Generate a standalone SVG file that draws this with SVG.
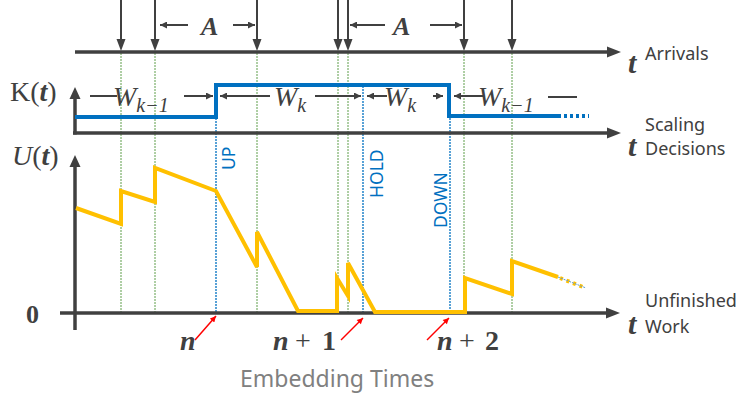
<svg xmlns="http://www.w3.org/2000/svg" width="739" height="397" viewBox="0 0 739 397">
<style>
.ax{stroke:#404040;stroke-width:3.5;fill:none}
.arr{stroke:#404040;stroke-width:2;fill:none}
.hd{fill:#404040}
.g{stroke:#5E9E4A;stroke-width:1;stroke-dasharray:2 1;fill:none}
.b{stroke:#0070C0;stroke-width:1.3;stroke-dasharray:2 1;fill:none}
.k{stroke:#0070C0;stroke-width:4;fill:none}
.u{stroke:#FFC000;stroke-width:4;fill:none;stroke-linejoin:miter}
.lab{font-family:"Noto Sans","Open Sans",sans-serif;fill:#404040}
.m{font-family:"Liberation Serif","DejaVu Serif",serif;fill:#404040}
.bi{font-weight:bold;font-style:italic}
.it{font-style:italic}
.dec{font-family:"Noto Sans","Open Sans",sans-serif;fill:#0070C0;font-size:17.5px}
.red{stroke:#FF0000;stroke-width:1.5;fill:none}
</style>
<defs>
<marker id="ah" viewBox="0 0 10 10" refX="10" refY="5" markerWidth="8" markerHeight="7" markerUnits="userSpaceOnUse" orient="auto"><path d="M0,0 L10,5 L0,10 z" fill="#404040"/></marker>
<marker id="rh" viewBox="0 0 10 10" refX="10" refY="5" markerWidth="7" markerHeight="6" markerUnits="userSpaceOnUse" orient="auto"><path d="M0,0 L10,5 L0,10 z" fill="#FF0000"/></marker>
</defs>

<!-- guide lines -->
<g id="guides">
<line class="g" x1="121" y1="53" x2="121" y2="312"/>
<line class="g" x1="155" y1="53" x2="155" y2="312"/>
<line class="g" x1="257" y1="53" x2="257" y2="312"/>
<line class="g" x1="338" y1="53" x2="338" y2="312"/>
<line class="g" x1="348" y1="53" x2="348" y2="312"/>
<line class="g" x1="464" y1="53" x2="464" y2="312"/>
<line class="g" x1="512" y1="53" x2="512" y2="312"/>
<line class="b" x1="216" y1="118" x2="216" y2="312"/>
<line class="b" x1="363" y1="86" x2="363" y2="312"/>
<line class="b" x1="450" y1="118" x2="450" y2="312"/>
</g>

<!-- axes -->
<g id="axes">
<line class="ax" x1="75" y1="52" x2="610" y2="52"/>
<polygon class="hd" points="607,46.5 621,52 607,57.5"/>
<line class="ax" x1="73" y1="133" x2="610" y2="133"/>
<polygon class="hd" points="607,127.5 621,133 607,138.5"/>
<line class="ax" x1="75" y1="134.5" x2="75" y2="97"/>
<polygon class="hd" points="69.5,99 75,87 80.5,99"/>
<line class="ax" x1="60" y1="313" x2="608" y2="313"/>
<polygon class="hd" points="606,307.5 620,313 606,318.5"/>
<line class="ax" x1="75" y1="330" x2="75" y2="165"/>
<polygon class="hd" points="69.5,167 75,155 80.5,167"/>
</g>

<!-- arrivals -->
<g id="arrivals">
<line class="arr" x1="121" y1="0" x2="121" y2="41"/><polygon class="hd" points="116.5,39 125.5,39 121,51"/>
<line class="arr" x1="155" y1="0" x2="155" y2="41"/><polygon class="hd" points="150.5,39 159.5,39 155,51"/>
<line class="arr" x1="257" y1="0" x2="257" y2="41"/><polygon class="hd" points="252.5,39 261.5,39 257,51"/>
<line class="arr" x1="338" y1="0" x2="338" y2="41"/><polygon class="hd" points="333.5,39 342.5,39 338,51"/>
<line class="arr" x1="348" y1="0" x2="348" y2="41"/><polygon class="hd" points="343.5,39 352.5,39 348,51"/>
<line class="arr" x1="464" y1="0" x2="464" y2="41"/><polygon class="hd" points="459.5,39 468.5,39 464,51"/>
<line class="arr" x1="512" y1="0" x2="512" y2="41"/><polygon class="hd" points="507.5,39 516.5,39 512,51"/>
</g>

<!-- A intervals -->
<g id="intervalA1">
<line class="arr" x1="188" y1="25" x2="160" y2="25" marker-end="url(#ah)"/>
<line class="arr" x1="233" y1="25" x2="255" y2="25" marker-end="url(#ah)"/>
<text class="m bi" x="201" y="35" font-size="26">A</text>
</g>
<g id="intervalA2">
<line class="arr" x1="385" y1="25" x2="350" y2="25" marker-end="url(#ah)"/>
<line class="arr" x1="430" y1="25" x2="462" y2="25" marker-end="url(#ah)"/>
<text class="m bi" x="393" y="35" font-size="26">A</text>
</g>

<!-- K(t) -->
<g id="scaling">
<polyline class="k" points="75,117 216,117 216,85 449,85 449,116 558,116"/>
<line stroke="#0070C0" stroke-width="4" stroke-dasharray="3 3" x1="558" y1="116" x2="589" y2="116"/>
</g>

<!-- W labels -->
<g id="windows">
<line class="arr" x1="90" y1="96" x2="117" y2="96"/>
<text class="m it" x="113" y="106" font-size="28">W<tspan font-size="20" dy="6">k−1</tspan></text>
<line class="arr" x1="184" y1="96" x2="213" y2="96" marker-end="url(#ah)"/>
<line class="arr" x1="270" y1="96" x2="220" y2="96" marker-end="url(#ah)"/>
<text class="m it" x="274" y="106" font-size="28">W<tspan font-size="20" dy="6">k</tspan></text>
<line class="arr" x1="315" y1="96" x2="361" y2="96" marker-end="url(#ah)"/>
<line class="arr" x1="387" y1="96" x2="367" y2="96" marker-end="url(#ah)"/>
<text class="m it" x="384" y="106" font-size="28">W<tspan font-size="20" dy="6">k</tspan></text>
<line class="arr" x1="433" y1="96" x2="443" y2="96" marker-end="url(#ah)"/>
<line class="arr" x1="483" y1="96" x2="454" y2="96" marker-end="url(#ah)"/>
<text class="m it" x="478" y="106" font-size="28">W<tspan font-size="20" dy="6">k−1</tspan></text>
<line class="arr" x1="548" y1="97" x2="577" y2="97"/>
</g>

<!-- decisions -->
<g id="decisions">
<text class="dec" transform="translate(235,170) rotate(-90)">UP</text>
<text class="dec" transform="translate(383,198) rotate(-90)">HOLD</text>
<text class="dec" transform="translate(447,228) rotate(-90)">DOWN</text>
</g>

<!-- U(t) -->
<g id="workload">
<polyline class="u" points="76,208 121,224 121,191 155,202 155,168 216,191 257,267 257,232 298,311 337,311 337,278 348,296 348,263 375,312 465,312 465,278 512,294 512,261 558,277"/>
<line stroke="#FFC000" stroke-width="4" stroke-dasharray="3 4" x1="560" y1="278" x2="583" y2="287"/>
<line stroke="#5B9BD5" stroke-width="1" stroke-dasharray="2 1" x1="558" y1="277" x2="586" y2="288"/>
</g>

<!-- embedding arrows -->
<g id="embedding">
<line class="red" x1="195" y1="340" x2="216" y2="316" marker-end="url(#rh)"/>
<line class="red" x1="341" y1="340" x2="363" y2="318" marker-end="url(#rh)"/>
<line class="red" x1="427" y1="340" x2="449" y2="318" marker-end="url(#rh)"/>
<text class="m bi" x="180" y="350" font-size="28">n</text>
<text class="m" font-size="28" y="350"><tspan class="bi" x="273">n</tspan><tspan x="295">+</tspan><tspan x="322" font-weight="bold">1</tspan></text>
<text class="m" font-size="28" y="350"><tspan class="bi" x="437">n</tspan><tspan x="459">+</tspan><tspan x="485" font-weight="bold">2</tspan></text>
<text class="lab" x="240" y="387" font-size="23" style="fill:#808080">Embedding Times</text>
</g>

<!-- axis labels -->
<g id="labels">
<text class="m" x="10" y="101" font-size="28">K(<tspan class="bi">t</tspan>)</text>
<text class="m" x="12" y="165" font-size="28"><tspan class="it">U</tspan>(<tspan class="bi">t</tspan>)</text>
<text class="m" font-weight="bold" x="26" y="323" font-size="26">0</text>
<text class="m bi" x="628" y="73" font-size="30">t</text>
<text class="m bi" x="628" y="156" font-size="30">t</text>
<text class="m bi" x="628" y="334" font-size="30">t</text>
<text class="lab" x="645" y="60" font-size="18">Arrivals</text>
<text class="lab" x="645" y="131" font-size="18">Scaling</text>
<text class="lab" x="645" y="155" font-size="18">Decisions</text>
<text class="lab" x="645" y="307" font-size="18">Unfinished</text>
<text class="lab" x="645" y="333" font-size="18">Work</text>
</g>
</svg>
